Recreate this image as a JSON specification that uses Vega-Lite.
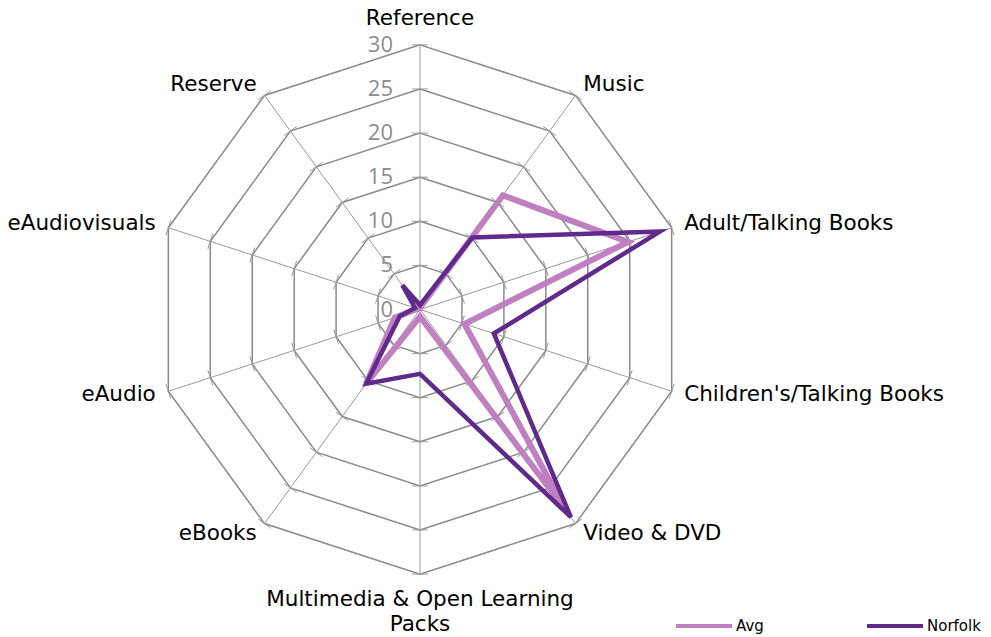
{
  "$schema": "https://vega.github.io/schema/vega-lite/v6.json",
  "width": 991,
  "height": 637,
  "autosize": {"type": "none"},
  "padding": 0,
  "background": "#ffffff",
  "config": {
    "view": {"stroke": null},
    "legend": {
      "orient": "none",
      "legendX": 674,
      "legendY": 596,
      "direction": "horizontal",
      "symbolType": "stroke",
      "symbolSize": 3136,
      "symbolStrokeWidth": 4,
      "labelFont": "DejaVu Sans",
      "labelFontSize": 15,
      "labelColor": "#000000",
      "labelOffset": 2,
      "columnPadding": 95,
      "title": null
    }
  },
  "datasets": {
    "series": [
      {"series": "Avg", "cat": "Reference", "idx": 0, "value": 0.2},
      {"series": "Avg", "cat": "Music", "idx": 1, "value": 16.0},
      {"series": "Avg", "cat": "Adult/Talking Books", "idx": 2, "value": 24.8},
      {"series": "Avg", "cat": "Children's/Talking Books", "idx": 3, "value": 5.3},
      {"series": "Avg", "cat": "Video & DVD", "idx": 4, "value": 28.0},
      {"series": "Avg", "cat": "Multimedia & Open Learning Packs", "idx": 5, "value": 0.8},
      {"series": "Avg", "cat": "eBooks", "idx": 6, "value": 10.4},
      {"series": "Avg", "cat": "eAudio", "idx": 7, "value": 3.0},
      {"series": "Avg", "cat": "eAudiovisuals", "idx": 8, "value": 0.3},
      {"series": "Avg", "cat": "Reserve", "idx": 9, "value": 0.3},
      {"series": "Norfolk", "cat": "Reference", "idx": 0, "value": 0.5},
      {"series": "Norfolk", "cat": "Music", "idx": 1, "value": 10.1},
      {"series": "Norfolk", "cat": "Adult/Talking Books", "idx": 2, "value": 28.6},
      {"series": "Norfolk", "cat": "Children's/Talking Books", "idx": 3, "value": 8.8},
      {"series": "Norfolk", "cat": "Video & DVD", "idx": 4, "value": 29.1},
      {"series": "Norfolk", "cat": "Multimedia & Open Learning Packs", "idx": 5, "value": 7.3},
      {"series": "Norfolk", "cat": "eBooks", "idx": 6, "value": 10.4},
      {"series": "Norfolk", "cat": "eAudio", "idx": 7, "value": 2.4},
      {"series": "Norfolk", "cat": "eAudiovisuals", "idx": 8, "value": 0.6},
      {"series": "Norfolk", "cat": "Reserve", "idx": 9, "value": 3.4}
    ],
    "axes": [
      {"idx": 0, "label": "Reference"},
      {"idx": 1, "label": "Music"},
      {"idx": 2, "label": "Adult/Talking Books"},
      {"idx": 3, "label": "Children's/Talking Books"},
      {"idx": 4, "label": "Video & DVD"},
      {"idx": 5, "label": "Multimedia & Open Learning\nPacks"},
      {"idx": 6, "label": "eBooks"},
      {"idx": 7, "label": "eAudio"},
      {"idx": 8, "label": "eAudiovisuals"},
      {"idx": 9, "label": "Reserve"}
    ],
    "rings": [
      {"level": 5, "idx": [0, 1, 2, 3, 4, 5, 6, 7, 8, 9]},
      {"level": 10, "idx": [0, 1, 2, 3, 4, 5, 6, 7, 8, 9]},
      {"level": 15, "idx": [0, 1, 2, 3, 4, 5, 6, 7, 8, 9]},
      {"level": 20, "idx": [0, 1, 2, 3, 4, 5, 6, 7, 8, 9]},
      {"level": 25, "idx": [0, 1, 2, 3, 4, 5, 6, 7, 8, 9]},
      {"level": 30, "idx": [0, 1, 2, 3, 4, 5, 6, 7, 8, 9]}
    ],
    "levels": [
      {"level": 0}, {"level": 5}, {"level": 10}, {"level": 15},
      {"level": 20}, {"level": 25}, {"level": 30}
    ]
  },
  "encoding": {
    "x": {"field": "x", "type": "quantitative", "scale": {"domain": [-47.62, 64.74], "nice": false, "zero": false}, "axis": null},
    "y": {"field": "y", "type": "quantitative", "scale": {"domain": [-37.13, 35.09], "nice": false, "zero": false}, "axis": null}
  },
  "layer": [
    {
      "data": {"name": "rings"},
      "transform": [
        {"flatten": ["idx"]},
        {"calculate": "datum.level * sin(datum.idx * PI / 5)", "as": "x"},
        {"calculate": "datum.level * cos(datum.idx * PI / 5)", "as": "y"}
      ],
      "mark": {"type": "line", "interpolate": "linear-closed", "stroke": "#8a8a8a", "strokeWidth": 1.5},
      "encoding": {
        "detail": {"field": "level", "type": "nominal"},
        "order": {"field": "idx", "type": "quantitative"}
      }
    },
    {
      "data": {"name": "axes"},
      "transform": [
        {"calculate": "30 * sin(datum.idx * PI / 5)", "as": "x"},
        {"calculate": "30 * cos(datum.idx * PI / 5)", "as": "y"}
      ],
      "mark": {"type": "rule", "stroke": "#9a9a9a", "strokeWidth": 1},
      "encoding": {
        "x2": {"datum": 0},
        "y2": {"datum": 0}
      }
    },
    {
      "data": {"name": "rings"},
      "transform": [
        {"flatten": ["idx"]},
        {"calculate": "datum.level * sin(datum.idx * PI / 5) - 0.9 * cos(datum.idx * PI / 5)", "as": "x"},
        {"calculate": "datum.level * cos(datum.idx * PI / 5) + 0.9 * sin(datum.idx * PI / 5)", "as": "y"},
        {"calculate": "datum.level * sin(datum.idx * PI / 5) + 0.9 * cos(datum.idx * PI / 5)", "as": "xe"},
        {"calculate": "datum.level * cos(datum.idx * PI / 5) - 0.9 * sin(datum.idx * PI / 5)", "as": "ye"}
      ],
      "mark": {"type": "rule", "stroke": "#9a9a9a", "strokeWidth": 1},
      "encoding": {
        "x2": {"field": "xe"},
        "y2": {"field": "ye"}
      }
    },
    {
      "data": {"name": "series"},
      "transform": [
        {"filter": "datum.series == 'Avg'"},
        {"calculate": "datum.value * sin(datum.idx * PI / 5)", "as": "x"},
        {"calculate": "datum.value * cos(datum.idx * PI / 5)", "as": "y"}
      ],
      "mark": {"type": "line", "interpolate": "linear-closed", "strokeJoin": "miter", "strokeWidth": 6},
      "encoding": {
        "color": {"field": "series", "type": "nominal", "scale": {"domain": ["Avg", "Norfolk"], "range": ["#C07FC0", "#602A8C"]}},
        "order": {"field": "idx", "type": "quantitative"}
      }
    },
    {
      "data": {"name": "series"},
      "transform": [
        {"filter": "datum.series == 'Norfolk'"},
        {"calculate": "datum.value * sin(datum.idx * PI / 5)", "as": "x"},
        {"calculate": "datum.value * cos(datum.idx * PI / 5)", "as": "y"}
      ],
      "mark": {"type": "line", "interpolate": "linear-closed", "strokeJoin": "miter", "strokeWidth": 4.5},
      "encoding": {
        "color": {"field": "series", "type": "nominal", "scale": {"domain": ["Avg", "Norfolk"], "range": ["#C07FC0", "#602A8C"]}},
        "order": {"field": "idx", "type": "quantitative"}
      }
    },
    {
      "data": {"name": "axes"},
      "transform": [
        {"filter": "datum.idx >= 1 && datum.idx <= 4"},
        {"calculate": "31.5 * sin(datum.idx * PI / 5)", "as": "x"},
        {"calculate": "31.5 * cos(datum.idx * PI / 5)", "as": "y"}
      ],
      "mark": {"type": "text", "align": "left", "baseline": "middle", "font": "DejaVu Sans", "fontSize": 21.5, "fill": "#000000"},
      "encoding": {"text": {"field": "label"}}
    },
    {
      "data": {"name": "axes"},
      "transform": [
        {"filter": "datum.idx >= 6"},
        {"calculate": "31.5 * sin(datum.idx * PI / 5)", "as": "x"},
        {"calculate": "31.5 * cos(datum.idx * PI / 5)", "as": "y"}
      ],
      "mark": {"type": "text", "align": "right", "baseline": "middle", "font": "DejaVu Sans", "fontSize": 21.5, "fill": "#000000"},
      "encoding": {"text": {"field": "label"}}
    },
    {
      "data": {"name": "axes"},
      "transform": [
        {"filter": "datum.idx == 0"},
        {"calculate": "0", "as": "x"},
        {"calculate": "30", "as": "y"}
      ],
      "mark": {"type": "text", "align": "center", "baseline": "middle", "dy": -26, "font": "DejaVu Sans", "fontSize": 21.5, "fill": "#000000"},
      "encoding": {"text": {"field": "label"}}
    },
    {
      "data": {"name": "axes"},
      "transform": [
        {"filter": "datum.idx == 5"},
        {"calculate": "0", "as": "x"},
        {"calculate": "-30", "as": "y"}
      ],
      "mark": {"type": "text", "align": "center", "baseline": "top", "dy": 15, "lineBreak": "\n", "lineHeight": 25, "font": "DejaVu Sans", "fontSize": 21.5, "fill": "#000000"},
      "encoding": {"text": {"field": "label"}}
    },
    {
      "data": {"name": "levels"},
      "transform": [
        {"calculate": "0", "as": "x"},
        {"calculate": "datum.level", "as": "y"}
      ],
      "mark": {"type": "text", "align": "right", "baseline": "middle", "dx": -27, "font": "Open Sans", "fontSize": 22, "fill": "#8c8c8c"},
      "encoding": {"text": {"field": "level", "type": "quantitative"}}
    }
  ]
}
